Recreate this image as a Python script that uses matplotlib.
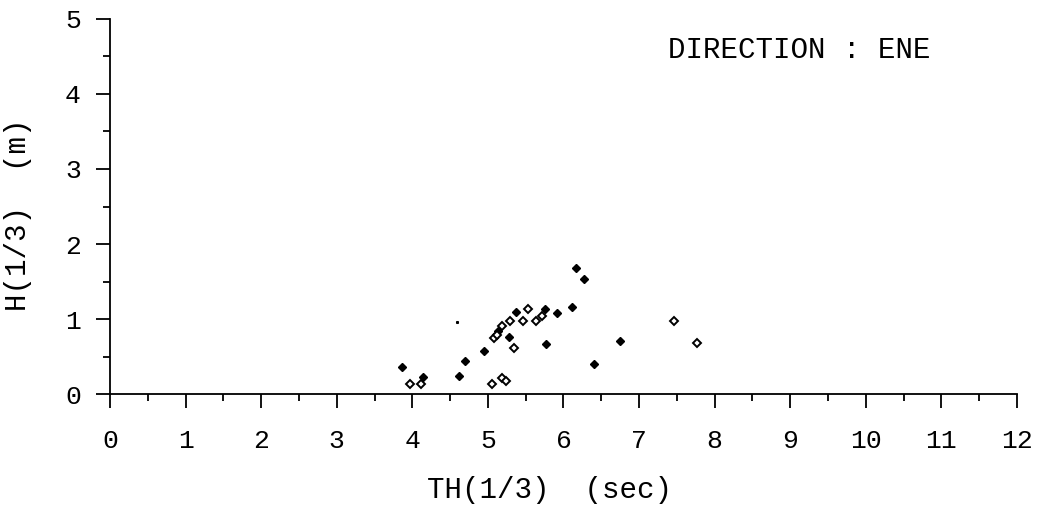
import matplotlib.pyplot as plt
from matplotlib.ticker import MultipleLocator

# wave period TH(1/3) [sec] and height H(1/3) [m], direction ENE
th_filled = [3.86, 4.14, 4.62, 4.70, 4.95, 5.14, 5.28, 5.37, 5.76, 5.77, 5.92, 6.11, 6.17, 6.27, 6.40, 6.75]
h_filled = [0.36, 0.23, 0.24, 0.44, 0.57, 0.84, 0.76, 1.10, 1.14, 0.67, 1.08, 1.16, 1.68, 1.54, 0.40, 0.71]

th_open = [3.97, 4.11, 5.06, 5.08, 5.12, 5.18, 5.18, 5.24, 5.29, 5.34, 5.47, 5.53, 5.63, 5.71, 7.46, 7.76]
h_open = [0.13, 0.14, 0.14, 0.75, 0.79, 0.91, 0.22, 0.17, 0.97, 0.61, 0.98, 1.14, 0.97, 1.04, 0.97, 0.68]

th_stray = [4.59]
h_stray = [0.96]

xticks = list(range(0, 13))
yticks = list(range(0, 6))

font = "Liberation Mono"
plt.rcParams["font.family"] = [font, "DejaVu Sans Mono"]

fig = plt.figure(figsize=(10.51, 5.09), dpi=100)
ax = fig.add_axes([0.1047, 0.2259, 0.8629, 0.7368])

ax.plot(th_filled, h_filled, "D", ms=4.5, mfc="black", mec="black", mew=1.0, clip_on=False)
ax.plot(th_open, h_open, "D", ms=4.5, mfc="white", mec="black", mew=1.4, clip_on=False)
ax.plot(th_stray, h_stray, "s", ms=1.2, color="black")

ax.set_xlim(0, 12)
ax.set_ylim(0, 5)
ax.spines["top"].set_visible(False)
ax.spines["right"].set_visible(False)
ax.spines["left"].set_linewidth(1.3)
ax.spines["bottom"].set_linewidth(1.3)

ax.set_xticks(xticks)
ax.set_xticklabels([str(v) for v in xticks])
ax.set_yticks(yticks)
ax.set_yticklabels([str(v) for v in yticks])
ax.xaxis.set_minor_locator(MultipleLocator(0.5))
ax.yaxis.set_minor_locator(MultipleLocator(0.5))
ax.tick_params(which="major", direction="out", length=10, width=1.3,
               labelsize=19, color="black")
ax.tick_params(which="minor", direction="out", length=5, width=1.3)
ax.tick_params(axis="x", which="major", pad=15)
ax.tick_params(axis="y", which="major", pad=11)

ax.text(0.76, 0.917, "DIRECTION : ENE", transform=ax.transAxes,
        fontsize=21, ha="center", va="center")

fig.text(0.523, 1 - 490 / 509, "TH(1/3)  (sec)", fontsize=21, ha="center", va="center")
fig.text(18 / 1051, 1 - 215 / 509, "H(1/3)  (m)", fontsize=21, ha="center",
         va="center", rotation=90)

fig.savefig("out.png", dpi=100)
